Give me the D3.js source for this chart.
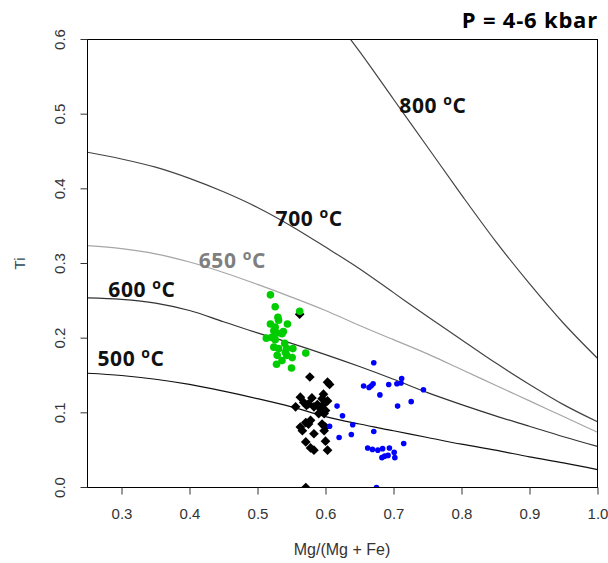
<!DOCTYPE html>
<html>
<head>
<meta charset="utf-8">
<script src="https://cdn.jsdelivr.net/npm/d3@7"></script>
<style>
  body { margin: 0; background: #fff; }
  svg { display: block; }
</style>
</head>
<body>
<svg width="608" height="563"></svg>
<script>
// isotherm readings: Mg/(Mg+Fe) -> Ti
var xGrid = [0.25, 0.30, 0.35, 0.40, 0.45, 0.50, 0.55, 0.60, 0.65, 0.70, 0.75, 0.80, 0.85, 0.90, 0.95, 1.00];
var ti500 = [0.153, 0.150, 0.145, 0.138, 0.129, 0.119, 0.108, 0.095, 0.085, 0.076, 0.067, 0.058, 0.050, 0.041, 0.033, 0.024];
var ti600 = [0.254, 0.252, 0.247, 0.237, 0.222, 0.207, 0.193, 0.178, 0.162, 0.145, 0.127, 0.111, 0.096, 0.082, 0.068, 0.055];
var ti650 = [0.324, 0.320, 0.313, 0.302, 0.288, 0.272, 0.255, 0.237, 0.217, 0.198, 0.179, 0.158, 0.137, 0.116, 0.095, 0.074];
var ti700 = [0.449, 0.440, 0.429, 0.414, 0.396, 0.375, 0.350, 0.322, 0.293, 0.261, 0.229, 0.198, 0.167, 0.138, 0.111, 0.088];
var x800 = [0.60, 0.65, 0.70, 0.75, 0.80, 0.85, 0.90, 0.95, 1.00];
var ti800 = [0.644, 0.584, 0.520, 0.456, 0.392, 0.330, 0.273, 0.220, 0.173];

// samples
var greenX = [0.519, 0.526, 0.562, 0.530, 0.531, 0.519, 0.544, 0.526, 0.524, 0.538, 0.529, 0.536, 0.513, 0.521, 0.526, 0.540, 0.524, 0.531, 0.543, 0.552, 0.571, 0.541, 0.543, 0.551, 0.529, 0.536, 0.528, 0.550];
var greenY = [0.258, 0.242, 0.236, 0.228, 0.224, 0.219, 0.219, 0.215, 0.210, 0.209, 0.207, 0.206, 0.200, 0.201, 0.198, 0.193, 0.188, 0.186, 0.186, 0.186, 0.180, 0.181, 0.177, 0.174, 0.177, 0.170, 0.165, 0.160];
var blackX = [0.562, 0.577, 0.603, 0.606, 0.563, 0.580, 0.568, 0.575, 0.597, 0.595, 0.572, 0.583, 0.556, 0.588, 0.598, 0.603, 0.593, 0.600, 0.590, 0.598, 0.578, 0.571, 0.575, 0.563, 0.595, 0.600, 0.598, 0.566, 0.583, 0.571, 0.600, 0.578, 0.583, 0.603, 0.571];
var blackY = [0.232, 0.148, 0.141, 0.138, 0.121, 0.120, 0.114, 0.112, 0.125, 0.119, 0.110, 0.108, 0.108, 0.111, 0.112, 0.116, 0.105, 0.103, 0.099, 0.099, 0.090, 0.087, 0.085, 0.081, 0.085, 0.081, 0.076, 0.076, 0.072, 0.061, 0.062, 0.053, 0.050, 0.050, 0.000];
var blueX = [0.671, 0.656, 0.664, 0.667, 0.670, 0.693, 0.705, 0.711, 0.712, 0.680, 0.744, 0.726, 0.706, 0.617, 0.625, 0.640, 0.606, 0.638, 0.671, 0.620, 0.715, 0.662, 0.669, 0.677, 0.684, 0.694, 0.701, 0.692, 0.687, 0.683, 0.702, 0.675];
var blueY = [0.167, 0.136, 0.134, 0.136, 0.139, 0.138, 0.139, 0.140, 0.146, 0.124, 0.131, 0.115, 0.109, 0.109, 0.096, 0.084, 0.082, 0.071, 0.075, 0.067, 0.059, 0.053, 0.051, 0.050, 0.052, 0.053, 0.047, 0.043, 0.042, 0.040, 0.040, 0.000];

var xTicks = [0.3, 0.4, 0.5, 0.6, 0.7, 0.8, 0.9, 1.0];
var yTicks = [0.0, 0.1, 0.2, 0.3, 0.4, 0.5, 0.6];

var isoLabels = [
    {t: "800", x: 0.758, y: 0.512, c: "#111"},
    {t: "700", x: 0.576, y: 0.360, c: "#111"},
    {t: "650", x: 0.463, y: 0.304, c: "#7f7f7f"},
    {t: "600", x: 0.330, y: 0.265, c: "#111"},
    {t: "500", x: 0.314, y: 0.173, c: "#111"}
];

var svg = d3.select("svg");
var margin = {left: 87.5, right: 597.5, top: 39.5, bottom: 487.5};

var x = d3.scaleLinear().domain([0.25, 1.0]).range([margin.left, margin.right]);
var y = d3.scaleLinear().domain([0, 0.6]).range([margin.bottom, margin.top]);

svg.append("clipPath").attr("id", "clip")
    .append("rect")
    .attr("x", margin.left).attr("y", margin.top)
    .attr("width", margin.right - margin.left)
    .attr("height", margin.bottom - margin.top);

var line = d3.line()
    .x(function (d) { return x(d[0]); })
    .y(function (d) { return y(d[1]); })
    .curve(d3.curveMonotoneX);

function pairs(xs, ys) {
    return xs.map(function (v, i) { return [v, ys[i]]; });
}

var curves = [
    {pts: pairs(x800, ti800), c: "#444"},
    {pts: pairs(xGrid, ti700), c: "#444"},
    {pts: pairs(xGrid, ti650), c: "#a6a6a6"},
    {pts: pairs(xGrid, ti600), c: "#333"},
    {pts: pairs(xGrid, ti500), c: "#111"}
];

var plot = svg.append("g").attr("clip-path", "url(#clip)");

plot.selectAll(".iso")
    .data(curves)
    .enter().append("path")
    .attr("class", "iso")
    .attr("d", function (d) { return line(d.pts); })
    .attr("fill", "none")
    .attr("stroke", function (d) { return d.c; })
    .attr("stroke-width", 1.2);

// black diamonds
plot.selectAll(".blk")
    .data(pairs(blackX, blackY))
    .enter().append("path")
    .attr("class", "blk")
    .attr("d", d3.symbol().type(d3.symbolDiamond2).size(60))
    .attr("transform", function (d) { return "translate(" + x(d[0]) + "," + y(d[1]) + ")"; })
    .attr("fill", "#000");

plot.selectAll(".grn")
    .data(pairs(greenX, greenY))
    .enter().append("circle")
    .attr("class", "grn")
    .attr("cx", function (d) { return x(d[0]); })
    .attr("cy", function (d) { return y(d[1]); })
    .attr("r", 3.8)
    .attr("fill", "#00cd00");

plot.selectAll(".blu")
    .data(pairs(blueX, blueY))
    .enter().append("circle")
    .attr("class", "blu")
    .attr("cx", function (d) { return x(d[0]); })
    .attr("cy", function (d) { return y(d[1]); })
    .attr("r", 2.8)
    .attr("fill", "#0000ff");

// isotherm labels
var lab = svg.selectAll(".lab")
    .data(isoLabels)
    .enter().append("text")
    .attr("class", "lab")
    .attr("x", function (d) { return x(d.x); })
    .attr("y", function (d) { return y(d.y) + 7.5; })
    .attr("text-anchor", "middle")
    .style("font-family", "'Open Sans', Lato, sans-serif")
    .style("font-weight", "bold")
    .style("font-size", "21px")
    .style("letter-spacing", "0.6px")
    .attr("fill", function (d) { return d.c; });
lab.append("tspan").text(function (d) { return d.t + " "; });
lab.append("tspan").attr("dy", -8).style("font-size", "14px").text("o");
lab.append("tspan").attr("dy", 8).text("C");

// box
svg.append("rect")
    .attr("x", margin.left).attr("y", margin.top)
    .attr("width", margin.right - margin.left)
    .attr("height", margin.bottom - margin.top)
    .attr("fill", "none").attr("stroke", "#000").attr("stroke-width", 1);

// axes
var xAxis = svg.append("g")
    .attr("transform", "translate(0," + margin.bottom + ")")
    .call(d3.axisBottom(x).tickValues(xTicks).tickSize(7).tickPadding(14).tickFormat(d3.format(".1f")));
xAxis.select(".domain").remove();

var yAxis = svg.append("g")
    .attr("transform", "translate(" + margin.left + ",0)")
    .call(d3.axisLeft(y).tickValues(yTicks).tickSize(7).tickFormat(d3.format(".1f")));
yAxis.select(".domain").remove();
yAxis.selectAll("text")
    .attr("transform", function (d) { return "translate(-28," + y(d) + ") rotate(-90)"; })
    .attr("x", 0).attr("y", 0).attr("dy", "0.35em")
    .attr("text-anchor", "middle");
yAxis.selectAll(".tick").attr("transform", null);
yAxis.selectAll(".tick line")
    .attr("y1", function (d) { return y(d); })
    .attr("y2", function (d) { return y(d); });

svg.selectAll(".tick text")
    .style("font-family", "'Liberation Sans', Arial, sans-serif")
    .style("font-size", "15px")
    .attr("fill", "#333");
svg.selectAll(".tick line").attr("stroke", "#333");

// axis titles
svg.append("text")
    .attr("x", 342).attr("y", 555)
    .attr("text-anchor", "middle")
    .style("font-family", "'Liberation Sans', Arial, sans-serif")
    .style("font-size", "16px")
    .attr("fill", "#333")
    .text("Mg/(Mg + Fe)");

svg.append("text")
    .attr("transform", "translate(25," + y(0.3) + ") rotate(-90)")
    .attr("text-anchor", "middle")
    .style("font-family", "'Liberation Sans', Arial, sans-serif")
    .style("font-size", "15px")
    .attr("fill", "#2b4a55")
    .text("Ti");

// title
svg.append("text")
    .attr("x", 598).attr("y", 28)
    .attr("text-anchor", "end")
    .style("font-family", "'Open Sans', Lato, sans-serif")
    .style("font-weight", "bold")
    .style("font-size", "22px")
    .style("letter-spacing", "0.8px")
    .attr("fill", "#000")
    .text("P = 4-6 kbar");
</script>
</body>
</html>
